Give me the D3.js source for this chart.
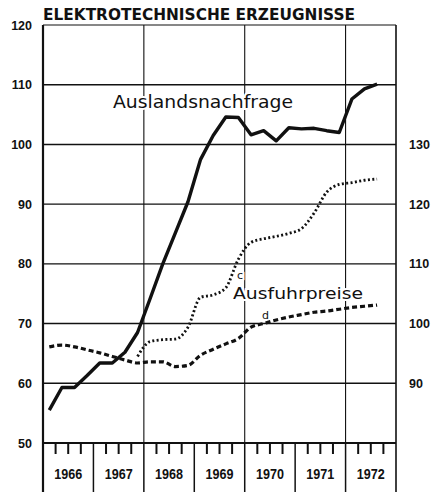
<!DOCTYPE html>
<html><head><meta charset="utf-8">
<script src="https://cdn.jsdelivr.net/npm/d3@7"></script>
<style>body{margin:0;background:#fff}svg{display:block}</style>
</head><body>
<script>
const title = "ELEKTROTECHNISCHE ERZEUGNISSE";
const years = [1966, 1967, 1968, 1969, 1970, 1971, 1972];
const leftTicks = [50, 60, 70, 80, 90, 100, 110, 120];
const rightTicks = [90, 100, 110, 120, 130];
const gridYears = [1968, 1970, 1972];
// quarterly observations
const quartersA = ["1966Q1","1966Q2","1966Q3","1966Q4","1967Q1","1967Q2","1967Q3","1967Q4",
  "1968Q1","1968Q2","1968Q3","1968Q4","1969Q1","1969Q2","1969Q3","1969Q4",
  "1970Q1","1970Q2","1970Q3","1970Q4","1971Q1","1971Q2","1971Q3","1971Q4",
  "1972Q1","1972Q2","1972Q3"];
// Auslandsnachfrage (left axis)
const auslandsnachfrage = [55.5, 59.3, 59.3, 61.3, 63.4, 63.4, 65.2, 68.5,
  74.2, 80.0, 85.2, 90.4, 97.5, 101.5, 104.6, 104.5,
  101.6, 102.3, 100.6, 102.8, 102.6, 102.7, 102.3, 102.0,
  107.6, 109.3, 110.1];
// Ausfuhrpreise c (right axis), from 1967Q4
const quartersC = quartersA.slice(7);
const preiseC = [94.5, 97.0, 97.3, 97.4, 99.4, 104.4, 104.8, 106.0, 110.8,
  113.6, 114.2, 114.6, 115.1, 115.9, 118.5, 122.0, 123.3, 123.6, 124.0, 124.2];
// Ausfuhrpreise d (right axis)
const preiseD = [96.1, 96.4, 96.1, 95.6, 95.1, 94.5, 93.9, 93.4,
  93.6, 93.6, 92.8, 93.0, 94.7, 95.7, 96.6, 97.5,
  99.4, 100.0, 100.6, 101.1, 101.5, 101.9, 102.1, 102.4,
  102.7, 102.9, 103.1];

const W = 432, H = 492;
const L = 43, R = 396, T = 25, B = 443;
const qt = s => +s.slice(0,4) + (+s.slice(5) - 0.5) / 4;

const x = d3.scaleLinear().domain([1966, 1973]).range([L, R]);
const yL = d3.scaleLinear().domain([50, 120]).range([B, T]);
const yR = d3.scaleLinear().domain([80, 150]).range([B, T]);

const svg = d3.select("body").append("svg").attr("width", W).attr("height", H);
const ink = "#111";

// horizontal grid
svg.append("g").selectAll("line").data(leftTicks.filter(v => v > 50 && v < 120)).join("line")
  .attr("x1", L).attr("x2", R).attr("y1", d => yL(d)).attr("y2", d => yL(d))
  .attr("stroke", ink).attr("stroke-width", 1.4);
// vertical grid
svg.append("g").selectAll("line").data(gridYears).join("line")
  .attr("x1", d => x(d)).attr("x2", d => x(d)).attr("y1", T).attr("y2", B)
  .attr("stroke", ink).attr("stroke-width", 1.1);

// frame
svg.append("line").attr("x1", L).attr("x2", R).attr("y1", T).attr("y2", T).attr("stroke", ink).attr("stroke-width", 1.2);
svg.append("line").attr("x1", L).attr("x2", L).attr("y1", T).attr("y2", H).attr("stroke", ink).attr("stroke-width", 2.2);
svg.append("line").attr("x1", R).attr("x2", R).attr("y1", T).attr("y2", H).attr("stroke", ink).attr("stroke-width", 1.6);
svg.append("line").attr("x1", L).attr("x2", R).attr("y1", B).attr("y2", B).attr("stroke", ink).attr("stroke-width", 2.2);

// year dividers and quarter ticks
svg.append("g").selectAll("line").data(years.slice(1)).join("line")
  .attr("x1", d => x(d)).attr("x2", d => x(d)).attr("y1", B).attr("y2", H)
  .attr("stroke", ink).attr("stroke-width", 1.5);
const qTicks = [];
years.forEach(yv => [0.25, 0.5, 0.75].forEach(f => qTicks.push(yv + f)));
svg.append("g").selectAll("line").data(qTicks).join("line")
  .attr("x1", d => x(d)).attr("x2", d => x(d)).attr("y1", B).attr("y2", B + 11)
  .attr("stroke", ink).attr("stroke-width", 2);
svg.append("g").selectAll("text").data(years).join("text")
  .attr("x", d => x(d + 0.5)).attr("y", 479).attr("text-anchor", "middle")
  .attr("font-family", "Liberation Sans, Arial, sans-serif").attr("font-weight", "bold")
  .attr("font-size", 14).attr("textLength", 28).attr("lengthAdjust", "spacingAndGlyphs")
  .attr("fill", ink).text(d => d);

// left axis labels
svg.append("g").selectAll("text").data(leftTicks).join("text")
  .attr("x", 32).attr("y", d => yL(d) + 4.5).attr("text-anchor", "end")
  .attr("font-family", "Liberation Sans, Arial, sans-serif").attr("font-weight", "bold")
  .attr("font-size", 12.5).attr("fill", ink).text(d => d);
// right axis labels
svg.append("g").selectAll("text").data(rightTicks).join("text")
  .attr("x", 409).attr("y", d => yR(d) + 4.5).attr("text-anchor", "start")
  .attr("font-family", "Liberation Sans, Arial, sans-serif").attr("font-weight", "bold")
  .attr("font-size", 12.5).attr("fill", ink).text(d => d);

// title
svg.append("text").attr("x", L).attr("y", 20)
  .attr("font-family", "DejaVu Sans, sans-serif").attr("font-weight", "bold")
  .attr("font-size", 16).attr("textLength", 312).attr("lengthAdjust", "spacingAndGlyphs")
  .attr("fill", ink).text(title);

// labels with white halo
function label(txt, lx, ly, size, len) {
  const t = svg.append("text").attr("x", lx).attr("y", ly)
    .attr("font-family", "DejaVu Sans, sans-serif").attr("font-size", size)
    .attr("fill", ink).attr("stroke", "#fff").attr("stroke-width", 4)
    .attr("paint-order", "stroke").text(txt);
  if (len) t.attr("textLength", len).attr("lengthAdjust", "spacingAndGlyphs");
  return t;
}
label("Auslandsnachfrage", 113, 108, 17, 180);
label("Ausfuhrpreise", 233, 299, 15.5, 130);
label("c", 237, 279, 11);
label("d", 262, 319, 11);

// lines
const lineR = d3.line().x(d => x(qt(d[0]))).y(d => yR(d[1])).curve(d3.curveMonotoneX);

svg.append("path").datum(d3.zip(quartersA, preiseD)).attr("d", lineR)
  .attr("fill", "none").attr("stroke", ink).attr("stroke-width", 3.2)
  .attr("stroke-dasharray", "5,3");
svg.append("path").datum(d3.zip(quartersC, preiseC)).attr("d", lineR)
  .attr("fill", "none").attr("stroke", ink).attr("stroke-width", 2.8)
  .attr("stroke-dasharray", "2,2.4");
svg.append("path").datum(d3.zip(quartersA, auslandsnachfrage))
  .attr("d", d3.line().x(d => x(qt(d[0]))).y(d => yL(d[1])))
  .attr("fill", "none").attr("stroke", ink).attr("stroke-width", 3.4)
  .attr("stroke-linejoin", "round");
</script>
</body></html>
